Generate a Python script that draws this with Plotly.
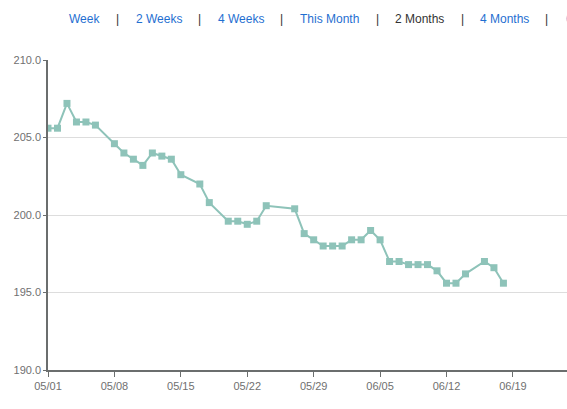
import plotly.graph_objects as go
import pandas as pd

start = "2015-05-01"
day_offsets = [0, 1, 2, 3, 4, 5, 7, 8, 9, 10, 11, 12, 13, 14, 16, 17, 19, 20, 21, 22,
               23, 26, 27, 28, 29, 30, 31, 32, 33, 34, 35, 36, 37, 38, 39, 40, 41, 42,
               43, 44, 46, 47, 48]
weights = [205.6, 205.6, 207.2, 206.0, 206.0, 205.8, 204.6, 204.0, 203.6, 203.2, 204.0,
           203.8, 203.6, 202.6, 202.0, 200.8, 199.6, 199.6, 199.4, 199.6, 200.6, 200.4,
           198.8, 198.4, 198.0, 198.0, 198.0, 198.4, 198.4, 199.0, 198.4, 197.0, 197.0,
           196.8, 196.8, 196.8, 196.4, 195.6, 195.6, 196.2, 197.0, 196.6, 195.6]
dates = [pd.Timestamp(start) + pd.Timedelta(days=d) for d in day_offsets]

x_ticks = ["2015-05-01", "2015-05-08", "2015-05-15", "2015-05-22", "2015-05-29",
           "2015-06-05", "2015-06-12", "2015-06-19"]
x_tick_labels = ["05/01", "05/08", "05/15", "05/22", "05/29", "06/05", "06/12", "06/19"]
y_ticks = [190, 195, 200, 205, 210]

menu_items = ["Week", "2 Weeks", "4 Weeks", "This Month", "2 Months", "4 Months", "6 Months"]
menu_active = "2 Months"

W, H = 567, 409
ML, MR, MT, MB = 48, 0, 60, 39

fig = go.Figure()
fig.add_trace(go.Scatter(
    x=dates, y=weights, mode="lines+markers",
    line=dict(color="#8ec3b9", width=2),
    marker=dict(symbol="square", size=7, color="#8ec3b9"),
    hoverinfo="x+y", showlegend=False,
))

axis_color = "#6b6e6e"
fig.update_xaxes(
    range=[pd.Timestamp("2015-05-01"), pd.Timestamp("2015-05-01") + pd.Timedelta(hours=54.7 * 24)],
    tickvals=x_ticks, ticktext=x_tick_labels,
    showline=True, linecolor=axis_color, linewidth=1.5,
    ticks="outside", ticklen=5, tickcolor=axis_color, tickwidth=1,
    showgrid=False, zeroline=False,
    tickfont=dict(family="Liberation Sans, Arial, sans-serif", size=11, color="#707070"),
)
fig.update_yaxes(
    range=[190, 210], tickvals=y_ticks, tickformat=".1f",
    showline=True, linecolor=axis_color, linewidth=1.5,
    ticks="outside", ticklen=3, tickcolor=axis_color, tickwidth=1,
    showgrid=True, gridcolor="#dddddd", gridwidth=1, zeroline=False,
    tickfont=dict(family="Liberation Sans, Arial, sans-serif", size=11, color="#707070"),
)

# menu bar across the top (pixel centres converted to paper coords)
menu_centres = [84.5, 158.5, 240.5, 329, 419, 504, 590]
sep_centres = [117.5, 199, 281.5, 377, 462, 546]
pw = W - ML - MR
ph = H - MT - MB
menu_y = (H - 19 - MB) / ph
annotations = []
for label, cx in zip(menu_items, menu_centres):
    annotations.append(dict(
        text=label, x=(cx - ML) / pw, xref="paper", y=menu_y, yref="paper",
        xanchor="center", yanchor="middle", showarrow=False,
        font=dict(family="Liberation Sans, Arial, sans-serif", size=12,
                  color="#333333" if label == menu_active else "#1f6fd1"),
    ))
for cx in sep_centres:
    annotations.append(dict(
        text="|", x=(cx - ML) / pw, xref="paper", y=menu_y, yref="paper",
        xanchor="center", yanchor="middle", showarrow=False,
        font=dict(family="Liberation Sans, Arial, sans-serif", size=12, color="#333333"),
    ))

fig.update_layout(
    width=W, height=H,
    margin=dict(l=ML, r=MR, t=MT, b=MB, pad=0),
    paper_bgcolor="white", plot_bgcolor="white",
    annotations=annotations,
    font=dict(family="Liberation Sans, Arial, sans-serif"),
)

fig.write_html(
    "out.html",
    config={"displayModeBar": False},
    post_script="document.body.style.margin='0';document.body.style.overflow='hidden';",
)
